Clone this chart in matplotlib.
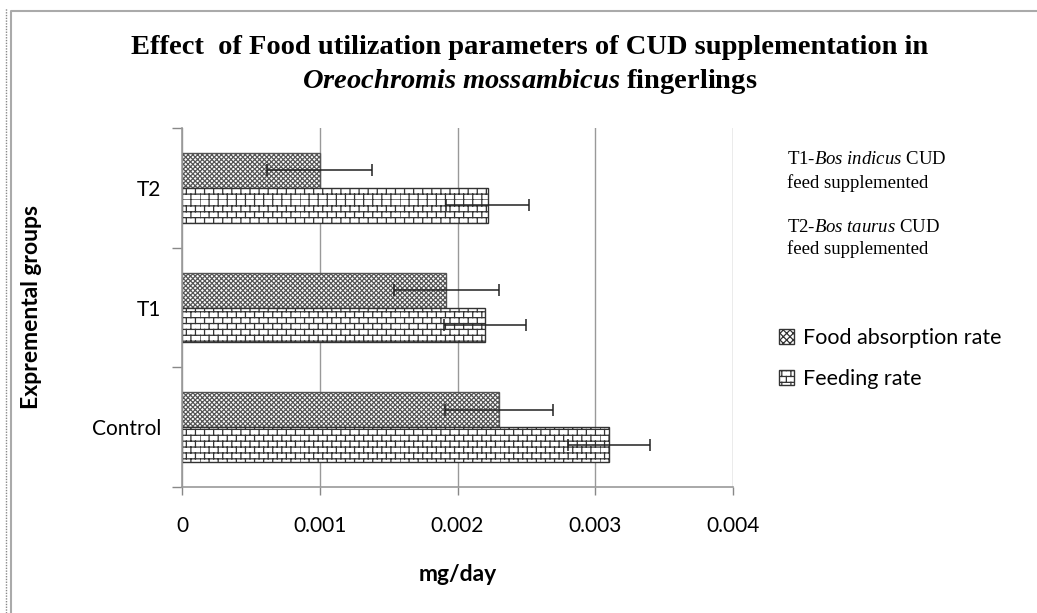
import warnings
import numpy as np
import matplotlib
matplotlib.use("Agg")
import matplotlib.pyplot as plt
from matplotlib import hatch as mhatch
from matplotlib.path import Path
from matplotlib.patches import Patch
from matplotlib.lines import Line2D

warnings.filterwarnings("ignore")

groups = ["Control", "T1", "T2"]
absorption = [0.0023, 0.00192, 0.0010]
absorption_err = [0.00039, 0.00038, 0.00038]
feeding = [0.0031, 0.0022, 0.00222]
feeding_err = [0.0003, 0.0003, 0.0003]
xticks = [0, 0.001, 0.002, 0.003, 0.004]
xtick_labels = ["0", "0.001", "0.002", "0.003", "0.004"]


# brick hatch ('b'), matplotlib has none built in
class BrickHatch(mhatch.HatchPatternBase):
    def __init__(self, hatch, density):
        self.rows = 17 if "b" in hatch else 0
        self.cols = 11
        self.num_vertices = self.rows * (2 + 2 * self.cols)

    def set_vertices_and_codes(self, vertices, codes):
        k = 0
        for i in range(self.rows):
            y0 = i / self.rows
            y1 = (i + 1) / self.rows
            vertices[k] = [0, y0]
            vertices[k + 1] = [1, y0]
            codes[k] = Path.MOVETO
            codes[k + 1] = Path.LINETO
            k += 2
            off = 0.5 / self.cols if i % 2 else 0
            for j in range(self.cols):
                x = j / self.cols + off
                vertices[k] = [x, y0]
                vertices[k + 1] = [x, y1]
                codes[k] = Path.MOVETO
                codes[k + 1] = Path.LINETO
                k += 2


mhatch._hatch_types.append(BrickHatch)

plt.rcParams["mathtext.fontset"] = "custom"
plt.rcParams["mathtext.rm"] = "Liberation Serif"
plt.rcParams["mathtext.it"] = "Liberation Serif:italic"
plt.rcParams["mathtext.bf"] = "Liberation Serif:bold:italic"
plt.rcParams["hatch.linewidth"] = 0.9

sans = "Lato"
serif = "Liberation Serif"

fig = plt.figure(figsize=(10.37, 6.13), dpi=100)
ax = fig.add_axes([182 / 1037, 1 - 487 / 613, (733 - 182) / 1037, (487 - 128) / 613])

y = np.arange(len(groups))
h = 0.29
ax.barh(y + h / 2, absorption, height=h, color="white", edgecolor="#555555",
        hatch="xxxxxxx", linewidth=1, zorder=2)
ax.barh(y - h / 2, feeding, height=h, color="white", edgecolor="#333333",
        hatch="b", linewidth=1, zorder=2)
ax.errorbar(absorption, y + h / 2, xerr=absorption_err, fmt="none",
            ecolor="#222222", elinewidth=1.1, capsize=4, capthick=1.1, zorder=3)
ax.errorbar(feeding, y - h / 2, xerr=feeding_err, fmt="none",
            ecolor="#222222", elinewidth=1.1, capsize=4, capthick=1.1, zorder=3)

ax.set_xlim(0, 0.004)
ax.set_ylim(-0.5, 2.5)
ax.set_xticks(xticks)
ax.set_xticklabels(xtick_labels, fontsize=15, family=sans)
ax.set_yticks(y)
ax.set_yticklabels(groups, fontsize=15, family=sans)
ax.set_yticks(np.arange(-0.5, 3, 1), minor=True)
ax.tick_params(axis="y", which="major", length=0, pad=15)
ax.tick_params(axis="y", which="minor", length=7, color="#888888", width=1)
ax.tick_params(axis="x", length=6, color="#888888", width=1, pad=15)
ax.grid(axis="x", color="#999999", linewidth=1, zorder=0)
ax.set_axisbelow(True)
for s in ["top", "right"]:
    ax.spines[s].set_visible(False)
for s in ["left", "bottom"]:
    ax.spines[s].set_color("#999999")
    ax.spines[s].set_linewidth(1.2)

ax.set_xlabel("mg/day", fontsize=16.5, family=sans, fontweight="bold", labelpad=20)
fig.text(32 / 1037, 1 - 307 / 613, "Expremental groups", rotation=90,
         ha="center", va="center", fontsize=16.5, family=sans, fontweight="bold")

fig.text(530 / 1037, 1 - 47 / 613,
         "Effect  of Food utilization parameters of CUD supplementation in",
         ha="center", va="center", fontsize=20.5, family=serif, fontweight="bold")
fig.text(530 / 1037, 1 - 82 / 613,
         r"$\mathbf{Oreochromis\ mossambicus}$ fingerlings",
         ha="center", va="center", fontsize=20.5, family=serif, fontweight="bold")

fig.text(787 / 1037, 1 - 160 / 613, r"T1-$\mathit{Bos\ indicus}$ CUD",
         ha="left", va="center", fontsize=13.5, family=serif)
fig.text(787 / 1037, 1 - 183 / 613, "feed supplemented",
         ha="left", va="center", fontsize=13.5, family=serif)
fig.text(787 / 1037, 1 - 227 / 613, r"T2-$\mathit{Bos\ taurus}$ CUD",
         ha="left", va="center", fontsize=13.5, family=serif)
fig.text(787 / 1037, 1 - 249 / 613, "feed supplemented",
         ha="left", va="center", fontsize=13.5, family=serif)

handles = [Patch(facecolor="white", edgecolor="#333333", hatch="xxxxx"),
           Patch(facecolor="white", edgecolor="#333333", hatch="b")]
fig.legend(handles, ["Food absorption rate", "Feeding rate"],
           loc="upper left", bbox_to_anchor=(760 / 1037, 1 - 309 / 613),
           frameon=False, handlelength=0.7, handleheight=0.7,
           handletextpad=0.4, labelspacing=0.95,
           prop={"family": sans, "size": 15.5})

# outer frame like the screenshot
fig.add_artist(Line2D([11 / 1037, 11 / 1037, 1], [0, 1 - 11 / 613, 1 - 11 / 613],
                      transform=fig.transFigure, color="#aaaaaa", linewidth=1.5))
fig.add_artist(Line2D([6 / 1037, 6 / 1037], [0, 1 - 8 / 613],
                      transform=fig.transFigure, color="#888888", linewidth=1,
                      linestyle=(0, (1, 1))))

fig.savefig("out.png", dpi=100)
